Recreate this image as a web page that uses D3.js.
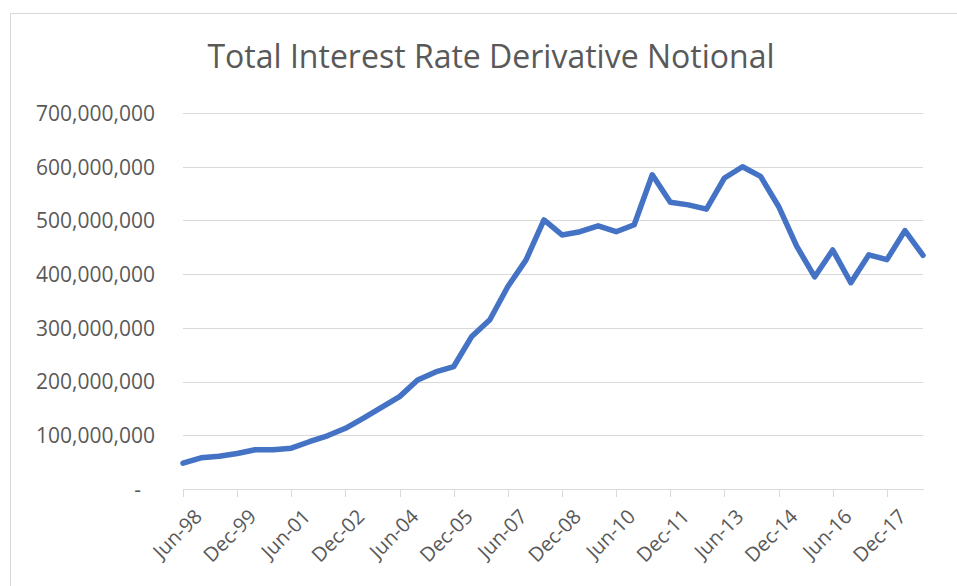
<!DOCTYPE html>
<html>
<head>
<meta charset="utf-8">
<script src="https://cdn.jsdelivr.net/npm/d3@7"></script>
<style>
  html, body { margin: 0; padding: 0; background: #fff; }
  svg { display: block; }
</style>
</head>
<body>
<svg id="chart" width="957" height="586"></svg>
<script>
const title = "Total Interest Rate Derivative Notional";

const categories = [
  "Jun-98","Dec-98","Jun-99","Dec-99","Jun-00","Dec-00","Jun-01","Dec-01",
  "Jun-02","Dec-02","Jun-03","Dec-03","Jun-04","Dec-04","Jun-05","Dec-05",
  "Jun-06","Dec-06","Jun-07","Dec-07","Jun-08","Dec-08","Jun-09","Dec-09",
  "Jun-10","Dec-10","Jun-11","Dec-11","Jun-12","Dec-12","Jun-13","Dec-13",
  "Jun-14","Dec-14","Jun-15","Dec-15","Jun-16","Dec-16","Jun-17","Dec-17",
  "Jun-18","Dec-18"
];

const values = [
  48000000, 58000000, 61000000, 66000000, 73000000, 73000000, 76000000, 88000000,
  99000000, 113000000, 132000000, 152000000, 172000000, 203000000, 218000000, 228000000,
  284000000, 315000000, 377000000, 426000000, 501000000, 473000000, 479000000, 490000000,
  479000000, 492000000, 585000000, 534000000, 529000000, 521000000, 579000000, 600000000,
  582000000, 526000000, 452000000, 395000000, 445000000, 384000000, 436000000, 427000000,
  481000000, 435000000
];

const yTicks = [0, 100000000, 200000000, 300000000, 400000000, 500000000, 600000000, 700000000];
const xTickLabels = ["Jun-98","Dec-99","Jun-01","Dec-02","Jun-04","Dec-05","Jun-07",
  "Dec-08","Jun-10","Dec-11","Jun-13","Dec-14","Jun-16","Dec-17"];

const svg = d3.select("#chart");
const W = 957, H = 586;
const plot = { left: 183, right: 923, top: 113, bottom: 489 };
const textColor = "#595959";
const gridColor = "#d9d9d9";
const font = "'Open Sans', 'DejaVu Sans', sans-serif";

// chart border
svg.append("rect")
  .attr("x", 10.5).attr("y", 13.5)
  .attr("width", W + 20).attr("height", H + 20)
  .attr("fill", "#fff").attr("stroke", gridColor).attr("stroke-width", 1);

const x = d3.scalePoint().domain(categories).range([plot.left, plot.right]);
const y = d3.scaleLinear().domain([0, 700000000]).range([plot.bottom, plot.top]);

// title
svg.append("text")
  .attr("x", 491).attr("y", 68)
  .attr("text-anchor", "middle")
  .attr("font-family", font)
  .attr("font-size", 32)
  .attr("fill", textColor)
  .text(title);

// gridlines + y labels
const yAxis = d3.axisLeft(y)
  .tickValues(yTicks)
  .tickSize(-(plot.right - plot.left))
  .tickPadding(28)
  .tickFormat(d => d === 0 ? "-" : d3.format(",")(d));

const gy = svg.append("g")
  .attr("transform", `translate(${plot.left},0)`)
  .call(yAxis);
gy.select(".domain").remove();
gy.selectAll(".tick line").attr("stroke", gridColor).attr("stroke-width", 1)
  .attr("shape-rendering", "crispEdges");
gy.selectAll(".tick text")
  .attr("font-family", font).attr("font-size", 21).attr("fill", textColor)
  .attr("dy", "0.35em");
gy.selectAll(".tick").filter(d => d === 0).select("text").attr("dx", -14);
gy.selectAll(".tick").filter(d => d === 0).select("line").remove();

// x axis
const xAxis = d3.axisBottom(x)
  .tickValues(xTickLabels)
  .tickSize(8)
  .tickSizeOuter(0)
  .tickPadding(6);

const gx = svg.append("g")
  .attr("transform", `translate(0,${plot.bottom})`)
  .call(xAxis);
gx.select(".domain").attr("stroke", gridColor).attr("shape-rendering", "crispEdges");
gx.selectAll(".tick line").attr("stroke", gridColor).attr("shape-rendering", "crispEdges");
gx.selectAll(".tick text")
  .attr("font-family", font).attr("font-size", 20).attr("fill", textColor)
  .attr("text-anchor", "end")
  .attr("dy", "0.35em")
  .attr("transform", "translate(5,14) rotate(-45)");

// line
const line = d3.line()
  .x((d, i) => x(categories[i]))
  .y(d => y(d));

svg.append("path")
  .datum(values)
  .attr("d", line)
  .attr("fill", "none")
  .attr("stroke", "#4472C4")
  .attr("stroke-width", 5.5)
  .attr("stroke-linejoin", "round")
  .attr("stroke-linecap", "round");
</script>
</body>
</html>
